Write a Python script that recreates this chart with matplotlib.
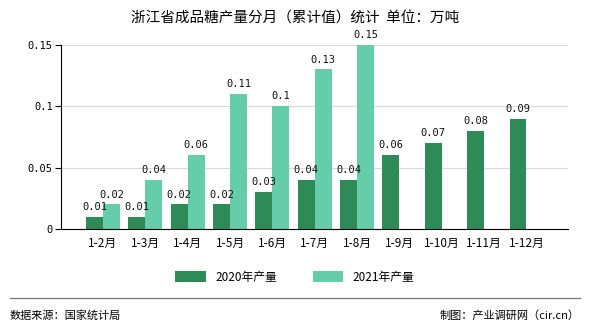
import matplotlib
matplotlib.use("Agg")
import matplotlib.pyplot as plt
import numpy as np

plt.rcParams['font.family'] = ['Noto Sans CJK SC', 'DejaVu Sans']

months = ['1-2月', '1-3月', '1-4月', '1-5月', '1-6月', '1-7月', '1-8月',
          '1-9月', '1-10月', '1-11月', '1-12月']
prod_2020 = [0.01, 0.01, 0.02, 0.02, 0.03, 0.04, 0.04, 0.06, 0.07, 0.08, 0.09]
prod_2021 = [0.02, 0.04, 0.06, 0.11, 0.1, 0.13, 0.15, None, None, None, None]
yticks = [0, 0.05, 0.1, 0.15]
ytick_labels = ['0', '0.05', '0.1', '0.15']

c20 = '#2e8b57'
c21 = '#66cdaa'

fig = plt.figure(figsize=(5.9, 3.3), dpi=100)
ax = fig.add_axes([0.1034, 0.306, 0.8593, 0.558])

x = np.arange(len(months))
w = 0.4
b1 = ax.bar(x - w / 2, prod_2020, w, color=c20, label='2020年产量', zorder=2)
x21 = [i for i, v in zip(x, prod_2021) if v is not None]
v21 = [v for v in prod_2021 if v is not None]
b2 = ax.bar(np.array(x21) + w / 2, v21, w, color=c21, label='2021年产量', zorder=2)

for xi, v in zip(x, prod_2020):
    ax.text(xi - w / 2, v + 0.004, f'{v:g}', ha='center', va='bottom',
            fontsize=7.5, family='DejaVu Sans Mono', color='#111111')
for xi, v in zip(x21, v21):
    ax.text(xi + w / 2, v + 0.004, f'{v:g}', ha='center', va='bottom',
            fontsize=7.5, family='DejaVu Sans Mono', color='#111111')

ax.set_xlim(-0.99, 10.98)
ax.set_ylim(0, 0.15)
ax.set_yticks(yticks)
ax.set_yticklabels(ytick_labels, family='DejaVu Sans Mono', fontsize=7.5)
ax.set_xticks(x)
ax.set_xticklabels(months, fontsize=8.5)
ax.tick_params(axis='x', length=0, pad=6)
ax.tick_params(axis='y', length=4, width=0.8, pad=2)
ax.yaxis.grid(True, color='#d9d9d9', linewidth=0.8, zorder=0)
for s in ['top', 'right']:
    ax.spines[s].set_visible(False)
for s in ['left', 'bottom']:
    ax.spines[s].set_color('black')
    ax.spines[s].set_linewidth(0.8)

fig.text(0.5, 0.945, '浙江省成品糖产量分月（累计值）统计  单位：万吨',
         ha='center', va='center', fontsize=10.5)

fig.legend(handles=[b1, b2], loc='center', bbox_to_anchor=(0.5, 0.16),
           ncol=2, frameon=False, fontsize=8.5, handlelength=2.6,
           handleheight=1.0, columnspacing=3.0)

fig.add_artist(plt.Line2D([0.017, 0.983], [0.098, 0.098], color='#777777',
                          linewidth=0.9, transform=fig.transFigure))
fig.text(0.017, 0.045, '数据来源：国家统计局', ha='left', va='center', fontsize=8)
fig.text(0.983, 0.045, '制图：产业调研网（cir.cn）', ha='right', va='center', fontsize=8)

fig.savefig('out.png', dpi=100)
